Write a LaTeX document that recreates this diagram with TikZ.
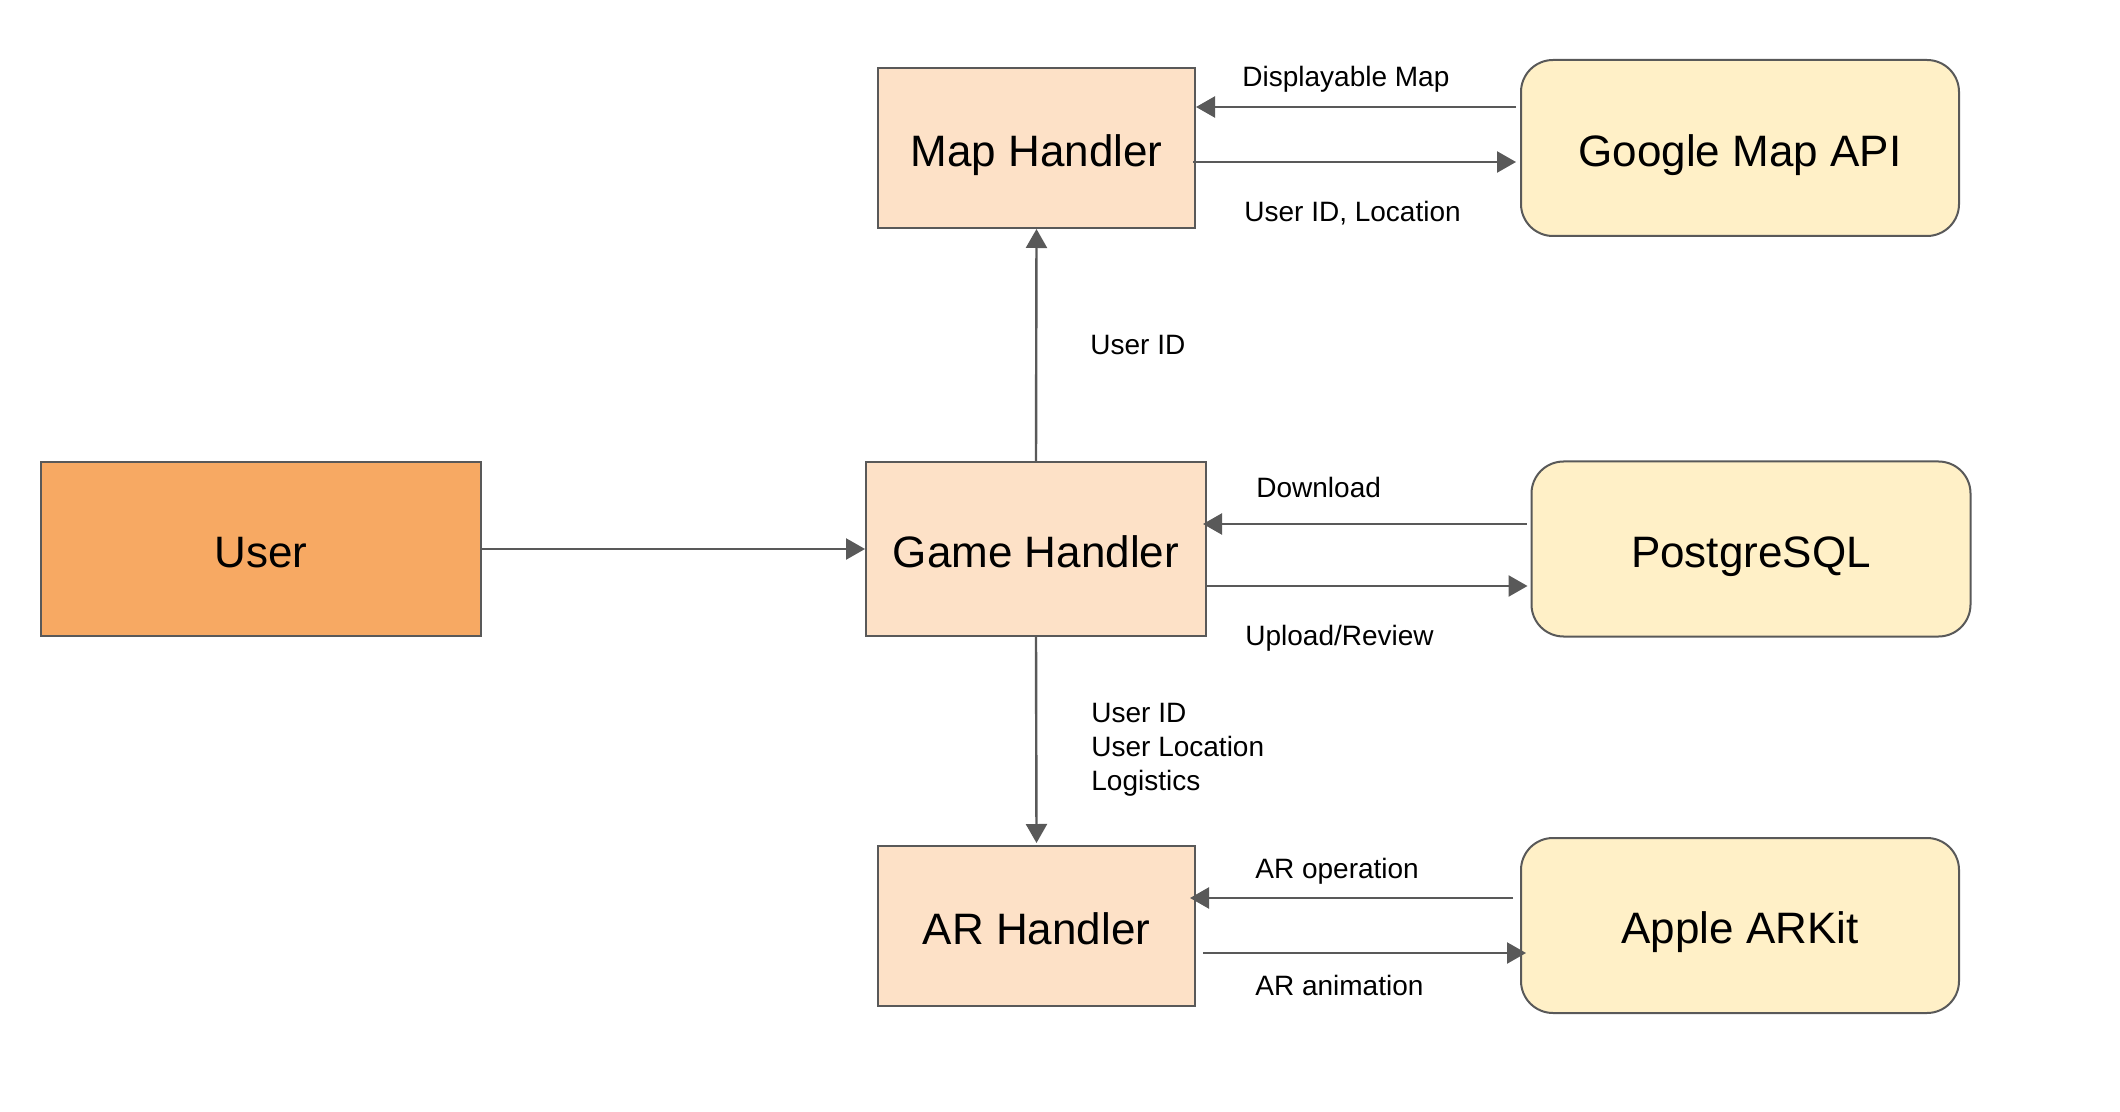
\documentclass[tikz,border=0pt]{standalone}
\usepackage{fontspec}
\setmainfont{Liberation Sans}
\usetikzlibrary{arrows.meta}
\definecolor{userfill}{HTML}{F7A963}
\definecolor{handfill}{HTML}{FDE1C7}
\definecolor{extfill}{HTML}{FFF0C7}
\definecolor{edge}{HTML}{595959}
\begin{document}
\begin{tikzpicture}[x=0.5pt,y=-0.5pt,
  box/.style={draw=edge,line width=1pt,inner sep=0pt,align=center,text height=18.4pt,text depth=0pt,font=\fontsize{22}{26}\selectfont},
  handler/.style={box,fill=handfill},
  ext/.style={box,fill=extfill,rounded corners=16pt},
  lbl/.style={inner sep=0pt,anchor=base west,font=\fontsize{14}{17}\selectfont},
  arr/.style={draw=edge,line width=1.2pt,-{Triangle[length=9.5pt,width=10.5pt]}}]
\useasboundingbox (0,0) rectangle (2120,1112);
\node[box,fill=userfill,minimum width=220pt,minimum height=87pt] (user) at (261,549) {User};
\node[handler,minimum width=170pt,minimum height=87pt] (game) at (1036,549) {Game Handler};
\node[handler,minimum width=158.5pt,minimum height=80pt] (map) at (1036.5,148) {Map Handler};
\node[handler,minimum width=158.5pt,minimum height=80pt] (ar) at (1036.5,926) {AR Handler};
\node[ext,minimum width=219pt,minimum height=88pt] (google) at (1740,148) {Google Map API};
\node[ext,minimum width=219.5pt,minimum height=87.5pt] (pg) at (1751,549) {PostgreSQL};
\node[ext,minimum width=219pt,minimum height=87.5pt] (apple) at (1740,925.5) {Apple ARKit};
% connectors
\draw[arr] (user.east) -- (game.west);
\draw[arr] (game.north) -- (map.south);
\draw[arr] (game.south) -- ([yshift=1pt]ar.north);
\draw[arr] ([xshift=-2pt]google.west |- 0,107) -- (map.east |- 0,107);
\draw[arr] ([xshift=-1.5pt]map.east |- 0,162) -- ([xshift=-2pt]google.west |- 0,162);
\draw[arr] ([xshift=-2pt]pg.west |- 0,524) -- ([xshift=-2pt]game.east |- 0,524);
\draw[arr] ([xshift=-1pt]game.east |- 0,586) -- ([xshift=-1.5pt]pg.west |- 0,586);
\draw[arr] ([xshift=-3.5pt]apple.west |- 0,898) -- ([xshift=-3pt]ar.east |- 0,898);
\draw[arr] ([xshift=3.5pt]ar.east |- 0,953) -- ([xshift=3pt]apple.west |- 0,953);
% labels
\node[lbl] (l1) at (1242,87) {Displayable Map};
\node[lbl] (l2) at (1244,222) {User ID, Location};
\node[lbl] (l3) at (1090,355) {User ID};
\node[lbl] (l4) at (1256,497) {Download};
\node[lbl] (l5) at (1245,645) {Upload/Review};
\node[lbl,align=left] (l6) at (1091,790) {User ID\\User Location\\Logistics};
\node[lbl] (l7) at (1255,878) {AR operation};
\node[lbl] (l8) at (1255,995) {AR animation};
\end{tikzpicture}
\end{document}
